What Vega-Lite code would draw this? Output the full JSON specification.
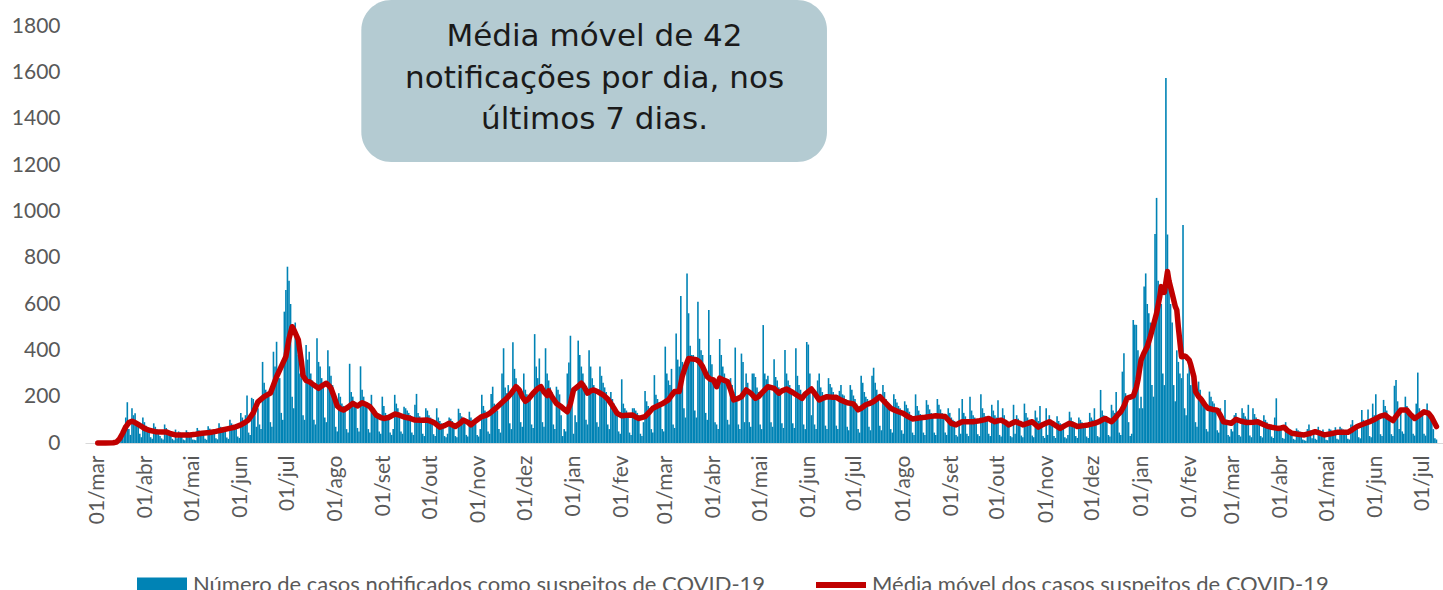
{"$schema":"https://vega.github.io/schema/vega-lite/v6.json","width":1358,"height":417,"autosize":{"type":"none"},"padding":{"left":85,"top":26,"right":0,"bottom":147},"background":"#ffffff","config":{"view":{"stroke":null},"axis":{"labelFont":"Lato","labelColor":"#595959","labelFontSize":21,"grid":false,"ticks":false,"tickSize":0}},
"datasets":{"bars":[
{"d":"2020-03-01","n":0},{"d":"2020-03-02","n":0},{"d":"2020-03-03","n":0},{"d":"2020-03-04","n":0},{"d":"2020-03-05","n":0},{"d":"2020-03-06","n":0},{"d":"2020-03-07","n":0},{"d":"2020-03-08","n":0},{"d":"2020-03-09","n":0},{"d":"2020-03-10","n":0},{"d":"2020-03-11","n":1},{"d":"2020-03-12","n":2},{"d":"2020-03-13","n":5},{"d":"2020-03-14","n":3},{"d":"2020-03-15","n":8},{"d":"2020-03-16","n":30},{"d":"2020-03-17","n":55},{"d":"2020-03-18","n":75},{"d":"2020-03-19","n":110},{"d":"2020-03-20","n":176},{"d":"2020-03-21","n":60},{"d":"2020-03-22","n":35},{"d":"2020-03-23","n":150},{"d":"2020-03-24","n":120},{"d":"2020-03-25","n":128},{"d":"2020-03-26","n":95},{"d":"2020-03-27","n":80},{"d":"2020-03-28","n":40},{"d":"2020-03-29","n":25},{"d":"2020-03-30","n":110},{"d":"2020-03-31","n":90},
{"d":"2020-04-01","n":75},{"d":"2020-04-02","n":68},{"d":"2020-04-03","n":60},{"d":"2020-04-04","n":25},{"d":"2020-04-05","n":18},{"d":"2020-04-06","n":85},{"d":"2020-04-07","n":70},{"d":"2020-04-08","n":60},{"d":"2020-04-09","n":52},{"d":"2020-04-10","n":30},{"d":"2020-04-11","n":20},{"d":"2020-04-12","n":15},{"d":"2020-04-13","n":80},{"d":"2020-04-14","n":65},{"d":"2020-04-15","n":55},{"d":"2020-04-16","n":48},{"d":"2020-04-17","n":42},{"d":"2020-04-18","n":18},{"d":"2020-04-19","n":12},{"d":"2020-04-20","n":58},{"d":"2020-04-21","n":20},{"d":"2020-04-22","n":50},{"d":"2020-04-23","n":45},{"d":"2020-04-24","n":40},{"d":"2020-04-25","n":15},{"d":"2020-04-26","n":12},{"d":"2020-04-27","n":55},{"d":"2020-04-28","n":48},{"d":"2020-04-29","n":42},{"d":"2020-04-30","n":38},
{"d":"2020-05-01","n":15},{"d":"2020-05-02","n":14},{"d":"2020-05-03","n":12},{"d":"2020-05-04","n":65},{"d":"2020-05-05","n":55},{"d":"2020-05-06","n":50},{"d":"2020-05-07","n":45},{"d":"2020-05-08","n":42},{"d":"2020-05-09","n":18},{"d":"2020-05-10","n":14},{"d":"2020-05-11","n":72},{"d":"2020-05-12","n":62},{"d":"2020-05-13","n":55},{"d":"2020-05-14","n":50},{"d":"2020-05-15","n":45},{"d":"2020-05-16","n":20},{"d":"2020-05-17","n":16},{"d":"2020-05-18","n":85},{"d":"2020-05-19","n":70},{"d":"2020-05-20","n":62},{"d":"2020-05-21","n":58},{"d":"2020-05-22","n":52},{"d":"2020-05-23","n":24},{"d":"2020-05-24","n":18},{"d":"2020-05-25","n":100},{"d":"2020-05-26","n":85},{"d":"2020-05-27","n":72},{"d":"2020-05-28","n":68},{"d":"2020-05-29","n":60},{"d":"2020-05-30","n":28},{"d":"2020-05-31","n":22},
{"d":"2020-06-01","n":130},{"d":"2020-06-02","n":110},{"d":"2020-06-03","n":95},{"d":"2020-06-04","n":120},{"d":"2020-06-05","n":205},{"d":"2020-06-06","n":45},{"d":"2020-06-07","n":35},{"d":"2020-06-08","n":195},{"d":"2020-06-09","n":190},{"d":"2020-06-10","n":160},{"d":"2020-06-11","n":70},{"d":"2020-06-12","n":150},{"d":"2020-06-13","n":80},{"d":"2020-06-14","n":60},{"d":"2020-06-15","n":350},{"d":"2020-06-16","n":260},{"d":"2020-06-17","n":230},{"d":"2020-06-18","n":210},{"d":"2020-06-19","n":200},{"d":"2020-06-20","n":90},{"d":"2020-06-21","n":70},{"d":"2020-06-22","n":394},{"d":"2020-06-23","n":330},{"d":"2020-06-24","n":437},{"d":"2020-06-25","n":300},{"d":"2020-06-26","n":280},{"d":"2020-06-27","n":130},{"d":"2020-06-28","n":100},{"d":"2020-06-29","n":567},{"d":"2020-06-30","n":660},
{"d":"2020-07-01","n":761},{"d":"2020-07-02","n":700},{"d":"2020-07-03","n":600},{"d":"2020-07-04","n":200},{"d":"2020-07-05","n":150},{"d":"2020-07-06","n":520},{"d":"2020-07-07","n":450},{"d":"2020-07-08","n":380},{"d":"2020-07-09","n":300},{"d":"2020-07-10","n":280},{"d":"2020-07-11","n":120},{"d":"2020-07-12","n":100},{"d":"2020-07-13","n":423},{"d":"2020-07-14","n":360},{"d":"2020-07-15","n":394},{"d":"2020-07-16","n":300},{"d":"2020-07-17","n":270},{"d":"2020-07-18","n":100},{"d":"2020-07-19","n":80},{"d":"2020-07-20","n":452},{"d":"2020-07-21","n":350},{"d":"2020-07-22","n":330},{"d":"2020-07-23","n":280},{"d":"2020-07-24","n":250},{"d":"2020-07-25","n":110},{"d":"2020-07-26","n":90},{"d":"2020-07-27","n":400},{"d":"2020-07-28","n":331},{"d":"2020-07-29","n":290},{"d":"2020-07-30","n":250},{"d":"2020-07-31","n":215},
{"d":"2020-08-01","n":70},{"d":"2020-08-02","n":50},{"d":"2020-08-03","n":215},{"d":"2020-08-04","n":200},{"d":"2020-08-05","n":170},{"d":"2020-08-06","n":160},{"d":"2020-08-07","n":150},{"d":"2020-08-08","n":60},{"d":"2020-08-09","n":45},{"d":"2020-08-10","n":342},{"d":"2020-08-11","n":220},{"d":"2020-08-12","n":200},{"d":"2020-08-13","n":180},{"d":"2020-08-14","n":160},{"d":"2020-08-15","n":65},{"d":"2020-08-16","n":50},{"d":"2020-08-17","n":331},{"d":"2020-08-18","n":230},{"d":"2020-08-19","n":200},{"d":"2020-08-20","n":175},{"d":"2020-08-21","n":160},{"d":"2020-08-22","n":60},{"d":"2020-08-23","n":45},{"d":"2020-08-24","n":208},{"d":"2020-08-25","n":150},{"d":"2020-08-26","n":140},{"d":"2020-08-27","n":125},{"d":"2020-08-28","n":115},{"d":"2020-08-29","n":50},{"d":"2020-08-30","n":40},{"d":"2020-08-31","n":200},
{"d":"2020-09-01","n":160},{"d":"2020-09-02","n":130},{"d":"2020-09-03","n":120},{"d":"2020-09-04","n":110},{"d":"2020-09-05","n":45},{"d":"2020-09-06","n":35},{"d":"2020-09-07","n":60},{"d":"2020-09-08","n":208},{"d":"2020-09-09","n":170},{"d":"2020-09-10","n":150},{"d":"2020-09-11","n":130},{"d":"2020-09-12","n":50},{"d":"2020-09-13","n":40},{"d":"2020-09-14","n":157},{"d":"2020-09-15","n":150},{"d":"2020-09-16","n":140},{"d":"2020-09-17","n":130},{"d":"2020-09-18","n":120},{"d":"2020-09-19","n":45},{"d":"2020-09-20","n":35},{"d":"2020-09-21","n":165},{"d":"2020-09-22","n":212},{"d":"2020-09-23","n":130},{"d":"2020-09-24","n":115},{"d":"2020-09-25","n":105},{"d":"2020-09-26","n":40},{"d":"2020-09-27","n":30},{"d":"2020-09-28","n":150},{"d":"2020-09-29","n":140},{"d":"2020-09-30","n":120},
{"d":"2020-10-01","n":110},{"d":"2020-10-02","n":100},{"d":"2020-10-03","n":38},{"d":"2020-10-04","n":30},{"d":"2020-10-05","n":150},{"d":"2020-10-06","n":110},{"d":"2020-10-07","n":95},{"d":"2020-10-08","n":85},{"d":"2020-10-09","n":80},{"d":"2020-10-10","n":30},{"d":"2020-10-11","n":25},{"d":"2020-10-12","n":40},{"d":"2020-10-13","n":110},{"d":"2020-10-14","n":105},{"d":"2020-10-15","n":95},{"d":"2020-10-16","n":85},{"d":"2020-10-17","n":30},{"d":"2020-10-18","n":25},{"d":"2020-10-19","n":148},{"d":"2020-10-20","n":130},{"d":"2020-10-21","n":115},{"d":"2020-10-22","n":105},{"d":"2020-10-23","n":95},{"d":"2020-10-24","n":35},{"d":"2020-10-25","n":28},{"d":"2020-10-26","n":135},{"d":"2020-10-27","n":110},{"d":"2020-10-28","n":100},{"d":"2020-10-29","n":90},{"d":"2020-10-30","n":85},{"d":"2020-10-31","n":35},
{"d":"2020-11-01","n":28},{"d":"2020-11-02","n":60},{"d":"2020-11-03","n":208},{"d":"2020-11-04","n":160},{"d":"2020-11-05","n":140},{"d":"2020-11-06","n":130},{"d":"2020-11-07","n":50},{"d":"2020-11-08","n":40},{"d":"2020-11-09","n":212},{"d":"2020-11-10","n":243},{"d":"2020-11-11","n":170},{"d":"2020-11-12","n":150},{"d":"2020-11-13","n":140},{"d":"2020-11-14","n":60},{"d":"2020-11-15","n":45},{"d":"2020-11-16","n":300},{"d":"2020-11-17","n":409},{"d":"2020-11-18","n":240},{"d":"2020-11-19","n":215},{"d":"2020-11-20","n":250},{"d":"2020-11-21","n":85},{"d":"2020-11-22","n":60},{"d":"2020-11-23","n":435},{"d":"2020-11-24","n":320},{"d":"2020-11-25","n":280},{"d":"2020-11-26","n":250},{"d":"2020-11-27","n":230},{"d":"2020-11-28","n":90},{"d":"2020-11-29","n":70},{"d":"2020-11-30","n":300},
{"d":"2020-12-01","n":230},{"d":"2020-12-02","n":210},{"d":"2020-12-03","n":200},{"d":"2020-12-04","n":190},{"d":"2020-12-05","n":80},{"d":"2020-12-06","n":65},{"d":"2020-12-07","n":470},{"d":"2020-12-08","n":330},{"d":"2020-12-09","n":280},{"d":"2020-12-10","n":365},{"d":"2020-12-11","n":240},{"d":"2020-12-12","n":90},{"d":"2020-12-13","n":70},{"d":"2020-12-14","n":409},{"d":"2020-12-15","n":300},{"d":"2020-12-16","n":270},{"d":"2020-12-17","n":240},{"d":"2020-12-18","n":220},{"d":"2020-12-19","n":80},{"d":"2020-12-20","n":60},{"d":"2020-12-21","n":243},{"d":"2020-12-22","n":230},{"d":"2020-12-23","n":210},{"d":"2020-12-24","n":120},{"d":"2020-12-25","n":30},{"d":"2020-12-26","n":60},{"d":"2020-12-27","n":50},{"d":"2020-12-28","n":300},{"d":"2020-12-29","n":347},{"d":"2020-12-30","n":463},{"d":"2020-12-31","n":200},
{"d":"2021-01-01","n":40},{"d":"2021-01-02","n":120},{"d":"2021-01-03","n":90},{"d":"2021-01-04","n":442},{"d":"2021-01-05","n":380},{"d":"2021-01-06","n":330},{"d":"2021-01-07","n":300},{"d":"2021-01-08","n":260},{"d":"2021-01-09","n":100},{"d":"2021-01-10","n":80},{"d":"2021-01-11","n":400},{"d":"2021-01-12","n":330},{"d":"2021-01-13","n":280},{"d":"2021-01-14","n":250},{"d":"2021-01-15","n":230},{"d":"2021-01-16","n":90},{"d":"2021-01-17","n":70},{"d":"2021-01-18","n":330},{"d":"2021-01-19","n":290},{"d":"2021-01-20","n":260},{"d":"2021-01-21","n":240},{"d":"2021-01-22","n":220},{"d":"2021-01-23","n":80},{"d":"2021-01-24","n":60},{"d":"2021-01-25","n":220},{"d":"2021-01-26","n":190},{"d":"2021-01-27","n":170},{"d":"2021-01-28","n":150},{"d":"2021-01-29","n":140},{"d":"2021-01-30","n":50},{"d":"2021-01-31","n":40},
{"d":"2021-02-01","n":275},{"d":"2021-02-02","n":170},{"d":"2021-02-03","n":150},{"d":"2021-02-04","n":140},{"d":"2021-02-05","n":130},{"d":"2021-02-06","n":45},{"d":"2021-02-07","n":35},{"d":"2021-02-08","n":150},{"d":"2021-02-09","n":150},{"d":"2021-02-10","n":140},{"d":"2021-02-11","n":130},{"d":"2021-02-12","n":120},{"d":"2021-02-13","n":40},{"d":"2021-02-14","n":30},{"d":"2021-02-15","n":90},{"d":"2021-02-16","n":225},{"d":"2021-02-17","n":180},{"d":"2021-02-18","n":160},{"d":"2021-02-19","n":150},{"d":"2021-02-20","n":60},{"d":"2021-02-21","n":45},{"d":"2021-02-22","n":293},{"d":"2021-02-23","n":208},{"d":"2021-02-24","n":190},{"d":"2021-02-25","n":175},{"d":"2021-02-26","n":160},{"d":"2021-02-27","n":60},{"d":"2021-02-28","n":50},
{"d":"2021-03-01","n":416},{"d":"2021-03-02","n":300},{"d":"2021-03-03","n":270},{"d":"2021-03-04","n":250},{"d":"2021-03-05","n":320},{"d":"2021-03-06","n":80},{"d":"2021-03-07","n":65},{"d":"2021-03-08","n":473},{"d":"2021-03-09","n":360},{"d":"2021-03-10","n":330},{"d":"2021-03-11","n":635},{"d":"2021-03-12","n":350},{"d":"2021-03-13","n":150},{"d":"2021-03-14","n":110},{"d":"2021-03-15","n":732},{"d":"2021-03-16","n":560},{"d":"2021-03-17","n":420},{"d":"2021-03-18","n":380},{"d":"2021-03-19","n":380},{"d":"2021-03-20","n":140},{"d":"2021-03-21","n":110},{"d":"2021-03-22","n":610},{"d":"2021-03-23","n":450},{"d":"2021-03-24","n":400},{"d":"2021-03-25","n":380},{"d":"2021-03-26","n":300},{"d":"2021-03-27","n":130},{"d":"2021-03-28","n":100},{"d":"2021-03-29","n":574},{"d":"2021-03-30","n":380},{"d":"2021-03-31","n":340},
{"d":"2021-04-01","n":260},{"d":"2021-04-02","n":90},{"d":"2021-04-03","n":80},{"d":"2021-04-04","n":60},{"d":"2021-04-05","n":449},{"d":"2021-04-06","n":380},{"d":"2021-04-07","n":330},{"d":"2021-04-08","n":300},{"d":"2021-04-09","n":270},{"d":"2021-04-10","n":100},{"d":"2021-04-11","n":80},{"d":"2021-04-12","n":280},{"d":"2021-04-13","n":250},{"d":"2021-04-14","n":220},{"d":"2021-04-15","n":412},{"d":"2021-04-16","n":200},{"d":"2021-04-17","n":80},{"d":"2021-04-18","n":60},{"d":"2021-04-19","n":386},{"d":"2021-04-20","n":350},{"d":"2021-04-21","n":90},{"d":"2021-04-22","n":300},{"d":"2021-04-23","n":260},{"d":"2021-04-24","n":90},{"d":"2021-04-25","n":70},{"d":"2021-04-26","n":300},{"d":"2021-04-27","n":300},{"d":"2021-04-28","n":285},{"d":"2021-04-29","n":240},{"d":"2021-04-30","n":220},
{"d":"2021-05-01","n":80},{"d":"2021-05-02","n":60},{"d":"2021-05-03","n":509},{"d":"2021-05-04","n":300},{"d":"2021-05-05","n":275},{"d":"2021-05-06","n":290},{"d":"2021-05-07","n":250},{"d":"2021-05-08","n":90},{"d":"2021-05-09","n":70},{"d":"2021-05-10","n":361},{"d":"2021-05-11","n":285},{"d":"2021-05-12","n":270},{"d":"2021-05-13","n":240},{"d":"2021-05-14","n":220},{"d":"2021-05-15","n":85},{"d":"2021-05-16","n":65},{"d":"2021-05-17","n":401},{"d":"2021-05-18","n":300},{"d":"2021-05-19","n":270},{"d":"2021-05-20","n":250},{"d":"2021-05-21","n":230},{"d":"2021-05-22","n":85},{"d":"2021-05-23","n":65},{"d":"2021-05-24","n":409},{"d":"2021-05-25","n":290},{"d":"2021-05-26","n":250},{"d":"2021-05-27","n":230},{"d":"2021-05-28","n":210},{"d":"2021-05-29","n":80},{"d":"2021-05-30","n":60},{"d":"2021-05-31","n":436},
{"d":"2021-06-01","n":425},{"d":"2021-06-02","n":300},{"d":"2021-06-03","n":120},{"d":"2021-06-04","n":230},{"d":"2021-06-05","n":80},{"d":"2021-06-06","n":60},{"d":"2021-06-07","n":270},{"d":"2021-06-08","n":300},{"d":"2021-06-09","n":240},{"d":"2021-06-10","n":220},{"d":"2021-06-11","n":200},{"d":"2021-06-12","n":75},{"d":"2021-06-13","n":60},{"d":"2021-06-14","n":280},{"d":"2021-06-15","n":255},{"d":"2021-06-16","n":240},{"d":"2021-06-17","n":220},{"d":"2021-06-18","n":200},{"d":"2021-06-19","n":75},{"d":"2021-06-20","n":60},{"d":"2021-06-21","n":225},{"d":"2021-06-22","n":250},{"d":"2021-06-23","n":210},{"d":"2021-06-24","n":205},{"d":"2021-06-25","n":190},{"d":"2021-06-26","n":70},{"d":"2021-06-27","n":55},{"d":"2021-06-28","n":250},{"d":"2021-06-29","n":230},{"d":"2021-06-30","n":205},
{"d":"2021-07-01","n":190},{"d":"2021-07-02","n":170},{"d":"2021-07-03","n":60},{"d":"2021-07-04","n":45},{"d":"2021-07-05","n":290},{"d":"2021-07-06","n":260},{"d":"2021-07-07","n":220},{"d":"2021-07-08","n":200},{"d":"2021-07-09","n":190},{"d":"2021-07-10","n":70},{"d":"2021-07-11","n":55},{"d":"2021-07-12","n":290},{"d":"2021-07-13","n":325},{"d":"2021-07-14","n":260},{"d":"2021-07-15","n":230},{"d":"2021-07-16","n":200},{"d":"2021-07-17","n":75},{"d":"2021-07-18","n":55},{"d":"2021-07-19","n":250},{"d":"2021-07-20","n":220},{"d":"2021-07-21","n":190},{"d":"2021-07-22","n":175},{"d":"2021-07-23","n":160},{"d":"2021-07-24","n":60},{"d":"2021-07-25","n":45},{"d":"2021-07-26","n":210},{"d":"2021-07-27","n":190},{"d":"2021-07-28","n":175},{"d":"2021-07-29","n":160},{"d":"2021-07-30","n":150},{"d":"2021-07-31","n":55},
{"d":"2021-08-01","n":40},{"d":"2021-08-02","n":180},{"d":"2021-08-03","n":165},{"d":"2021-08-04","n":150},{"d":"2021-08-05","n":135},{"d":"2021-08-06","n":120},{"d":"2021-08-07","n":45},{"d":"2021-08-08","n":35},{"d":"2021-08-09","n":210},{"d":"2021-08-10","n":160},{"d":"2021-08-11","n":140},{"d":"2021-08-12","n":125},{"d":"2021-08-13","n":115},{"d":"2021-08-14","n":45},{"d":"2021-08-15","n":35},{"d":"2021-08-16","n":185},{"d":"2021-08-17","n":165},{"d":"2021-08-18","n":145},{"d":"2021-08-19","n":130},{"d":"2021-08-20","n":120},{"d":"2021-08-21","n":45},{"d":"2021-08-22","n":35},{"d":"2021-08-23","n":190},{"d":"2021-08-24","n":165},{"d":"2021-08-25","n":145},{"d":"2021-08-26","n":130},{"d":"2021-08-27","n":120},{"d":"2021-08-28","n":45},{"d":"2021-08-29","n":35},{"d":"2021-08-30","n":150},{"d":"2021-08-31","n":130},
{"d":"2021-09-01","n":110},{"d":"2021-09-02","n":100},{"d":"2021-09-03","n":95},{"d":"2021-09-04","n":35},{"d":"2021-09-05","n":28},{"d":"2021-09-06","n":150},{"d":"2021-09-07","n":40},{"d":"2021-09-08","n":190},{"d":"2021-09-09","n":130},{"d":"2021-09-10","n":115},{"d":"2021-09-11","n":40},{"d":"2021-09-12","n":30},{"d":"2021-09-13","n":200},{"d":"2021-09-14","n":140},{"d":"2021-09-15","n":120},{"d":"2021-09-16","n":110},{"d":"2021-09-17","n":100},{"d":"2021-09-18","n":38},{"d":"2021-09-19","n":30},{"d":"2021-09-20","n":210},{"d":"2021-09-21","n":150},{"d":"2021-09-22","n":130},{"d":"2021-09-23","n":115},{"d":"2021-09-24","n":105},{"d":"2021-09-25","n":40},{"d":"2021-09-26","n":30},{"d":"2021-09-27","n":165},{"d":"2021-09-28","n":140},{"d":"2021-09-29","n":120},{"d":"2021-09-30","n":110},
{"d":"2021-10-01","n":185},{"d":"2021-10-02","n":35},{"d":"2021-10-03","n":28},{"d":"2021-10-04","n":150},{"d":"2021-10-05","n":120},{"d":"2021-10-06","n":100},{"d":"2021-10-07","n":95},{"d":"2021-10-08","n":85},{"d":"2021-10-09","n":30},{"d":"2021-10-10","n":25},{"d":"2021-10-11","n":165},{"d":"2021-10-12","n":40},{"d":"2021-10-13","n":120},{"d":"2021-10-14","n":105},{"d":"2021-10-15","n":95},{"d":"2021-10-16","n":32},{"d":"2021-10-17","n":25},{"d":"2021-10-18","n":170},{"d":"2021-10-19","n":130},{"d":"2021-10-20","n":110},{"d":"2021-10-21","n":100},{"d":"2021-10-22","n":90},{"d":"2021-10-23","n":32},{"d":"2021-10-24","n":25},{"d":"2021-10-25","n":140},{"d":"2021-10-26","n":110},{"d":"2021-10-27","n":95},{"d":"2021-10-28","n":160},{"d":"2021-10-29","n":80},{"d":"2021-10-30","n":30},{"d":"2021-10-31","n":22},
{"d":"2021-11-01","n":150},{"d":"2021-11-02","n":35},{"d":"2021-11-03","n":120},{"d":"2021-11-04","n":100},{"d":"2021-11-05","n":90},{"d":"2021-11-06","n":30},{"d":"2021-11-07","n":22},{"d":"2021-11-08","n":115},{"d":"2021-11-09","n":95},{"d":"2021-11-10","n":85},{"d":"2021-11-11","n":80},{"d":"2021-11-12","n":70},{"d":"2021-11-13","n":25},{"d":"2021-11-14","n":20},{"d":"2021-11-15","n":35},{"d":"2021-11-16","n":135},{"d":"2021-11-17","n":110},{"d":"2021-11-18","n":95},{"d":"2021-11-19","n":85},{"d":"2021-11-20","n":30},{"d":"2021-11-21","n":22},{"d":"2021-11-22","n":110},{"d":"2021-11-23","n":100},{"d":"2021-11-24","n":90},{"d":"2021-11-25","n":82},{"d":"2021-11-26","n":75},{"d":"2021-11-27","n":28},{"d":"2021-11-28","n":22},{"d":"2021-11-29","n":130},{"d":"2021-11-30","n":110},
{"d":"2021-12-01","n":100},{"d":"2021-12-02","n":150},{"d":"2021-12-03","n":90},{"d":"2021-12-04","n":30},{"d":"2021-12-05","n":25},{"d":"2021-12-06","n":229},{"d":"2021-12-07","n":140},{"d":"2021-12-08","n":120},{"d":"2021-12-09","n":110},{"d":"2021-12-10","n":100},{"d":"2021-12-11","n":35},{"d":"2021-12-12","n":28},{"d":"2021-12-13","n":165},{"d":"2021-12-14","n":140},{"d":"2021-12-15","n":130},{"d":"2021-12-16","n":220},{"d":"2021-12-17","n":120},{"d":"2021-12-18","n":45},{"d":"2021-12-19","n":35},{"d":"2021-12-20","n":308},{"d":"2021-12-21","n":387},{"d":"2021-12-22","n":215},{"d":"2021-12-23","n":200},{"d":"2021-12-24","n":90},{"d":"2021-12-25","n":30},{"d":"2021-12-26","n":40},{"d":"2021-12-27","n":531},{"d":"2021-12-28","n":510},{"d":"2021-12-29","n":510},{"d":"2021-12-30","n":400},{"d":"2021-12-31","n":150},
{"d":"2022-01-01","n":200},{"d":"2022-01-02","n":150},{"d":"2022-01-03","n":676},{"d":"2022-01-04","n":732},{"d":"2022-01-05","n":600},{"d":"2022-01-06","n":560},{"d":"2022-01-07","n":520},{"d":"2022-01-08","n":250},{"d":"2022-01-09","n":200},{"d":"2022-01-10","n":902},{"d":"2022-01-11","n":1058},{"d":"2022-01-12","n":700},{"d":"2022-01-13","n":650},{"d":"2022-01-14","n":600},{"d":"2022-01-15","n":300},{"d":"2022-01-16","n":250},{"d":"2022-01-17","n":1576},{"d":"2022-01-18","n":900},{"d":"2022-01-19","n":700},{"d":"2022-01-20","n":600},{"d":"2022-01-21","n":520},{"d":"2022-01-22","n":250},{"d":"2022-01-23","n":180},{"d":"2022-01-24","n":400},{"d":"2022-01-25","n":350},{"d":"2022-01-26","n":300},{"d":"2022-01-27","n":280},{"d":"2022-01-28","n":941},{"d":"2022-01-29","n":150},{"d":"2022-01-30","n":120},{"d":"2022-01-31","n":300},
{"d":"2022-02-01","n":358},{"d":"2022-02-02","n":250},{"d":"2022-02-03","n":300},{"d":"2022-02-04","n":250},{"d":"2022-02-05","n":90},{"d":"2022-02-06","n":70},{"d":"2022-02-07","n":265},{"d":"2022-02-08","n":230},{"d":"2022-02-09","n":200},{"d":"2022-02-10","n":180},{"d":"2022-02-11","n":160},{"d":"2022-02-12","n":60},{"d":"2022-02-13","n":50},{"d":"2022-02-14","n":222},{"d":"2022-02-15","n":200},{"d":"2022-02-16","n":180},{"d":"2022-02-17","n":170},{"d":"2022-02-18","n":150},{"d":"2022-02-19","n":55},{"d":"2022-02-20","n":45},{"d":"2022-02-21","n":150},{"d":"2022-02-22","n":120},{"d":"2022-02-23","n":110},{"d":"2022-02-24","n":186},{"d":"2022-02-25","n":100},{"d":"2022-02-26","n":35},{"d":"2022-02-27","n":28},{"d":"2022-02-28","n":60},
{"d":"2022-03-01","n":50},{"d":"2022-03-02","n":120},{"d":"2022-03-03","n":130},{"d":"2022-03-04","n":110},{"d":"2022-03-05","n":35},{"d":"2022-03-06","n":28},{"d":"2022-03-07","n":150},{"d":"2022-03-08","n":130},{"d":"2022-03-09","n":115},{"d":"2022-03-10","n":105},{"d":"2022-03-11","n":165},{"d":"2022-03-12","n":32},{"d":"2022-03-13","n":25},{"d":"2022-03-14","n":150},{"d":"2022-03-15","n":125},{"d":"2022-03-16","n":110},{"d":"2022-03-17","n":100},{"d":"2022-03-18","n":90},{"d":"2022-03-19","n":30},{"d":"2022-03-20","n":24},{"d":"2022-03-21","n":120},{"d":"2022-03-22","n":100},{"d":"2022-03-23","n":90},{"d":"2022-03-24","n":80},{"d":"2022-03-25","n":75},{"d":"2022-03-26","n":28},{"d":"2022-03-27","n":22},{"d":"2022-03-28","n":110},{"d":"2022-03-29","n":193},{"d":"2022-03-30","n":70},{"d":"2022-03-31","n":60},
{"d":"2022-04-01","n":65},{"d":"2022-04-02","n":22},{"d":"2022-04-03","n":18},{"d":"2022-04-04","n":90},{"d":"2022-04-05","n":70},{"d":"2022-04-06","n":60},{"d":"2022-04-07","n":55},{"d":"2022-04-08","n":50},{"d":"2022-04-09","n":18},{"d":"2022-04-10","n":14},{"d":"2022-04-11","n":63},{"d":"2022-04-12","n":55},{"d":"2022-04-13","n":50},{"d":"2022-04-14","n":45},{"d":"2022-04-15","n":15},{"d":"2022-04-16","n":12},{"d":"2022-04-17","n":10},{"d":"2022-04-18","n":60},{"d":"2022-04-19","n":80},{"d":"2022-04-20","n":55},{"d":"2022-04-21","n":20},{"d":"2022-04-22","n":50},{"d":"2022-04-23","n":18},{"d":"2022-04-24","n":14},{"d":"2022-04-25","n":70},{"d":"2022-04-26","n":55},{"d":"2022-04-27","n":50},{"d":"2022-04-28","n":58},{"d":"2022-04-29","n":40},{"d":"2022-04-30","n":14},
{"d":"2022-05-01","n":12},{"d":"2022-05-02","n":62},{"d":"2022-05-03","n":58},{"d":"2022-05-04","n":52},{"d":"2022-05-05","n":48},{"d":"2022-05-06","n":68},{"d":"2022-05-07","n":18},{"d":"2022-05-08","n":15},{"d":"2022-05-09","n":70},{"d":"2022-05-10","n":63},{"d":"2022-05-11","n":58},{"d":"2022-05-12","n":55},{"d":"2022-05-13","n":50},{"d":"2022-05-14","n":18},{"d":"2022-05-15","n":15},{"d":"2022-05-16","n":80},{"d":"2022-05-17","n":99},{"d":"2022-05-18","n":75},{"d":"2022-05-19","n":70},{"d":"2022-05-20","n":65},{"d":"2022-05-21","n":25},{"d":"2022-05-22","n":20},{"d":"2022-05-23","n":142},{"d":"2022-05-24","n":100},{"d":"2022-05-25","n":90},{"d":"2022-05-26","n":85},{"d":"2022-05-27","n":145},{"d":"2022-05-28","n":30},{"d":"2022-05-29","n":25},{"d":"2022-05-30","n":170},{"d":"2022-05-31","n":120},
{"d":"2022-06-01","n":210},{"d":"2022-06-02","n":110},{"d":"2022-06-03","n":100},{"d":"2022-06-04","n":38},{"d":"2022-06-05","n":30},{"d":"2022-06-06","n":186},{"d":"2022-06-07","n":160},{"d":"2022-06-08","n":140},{"d":"2022-06-09","n":120},{"d":"2022-06-10","n":105},{"d":"2022-06-11","n":38},{"d":"2022-06-12","n":30},{"d":"2022-06-13","n":247},{"d":"2022-06-14","n":272},{"d":"2022-06-15","n":180},{"d":"2022-06-16","n":60},{"d":"2022-06-17","n":150},{"d":"2022-06-18","n":50},{"d":"2022-06-19","n":40},{"d":"2022-06-20","n":200},{"d":"2022-06-21","n":160},{"d":"2022-06-22","n":140},{"d":"2022-06-23","n":125},{"d":"2022-06-24","n":110},{"d":"2022-06-25","n":40},{"d":"2022-06-26","n":32},{"d":"2022-06-27","n":170},{"d":"2022-06-28","n":304},{"d":"2022-06-29","n":150},{"d":"2022-06-30","n":130},
{"d":"2022-07-01","n":120},{"d":"2022-07-02","n":40},{"d":"2022-07-03","n":32},{"d":"2022-07-04","n":170},{"d":"2022-07-05","n":140},{"d":"2022-07-06","n":120},{"d":"2022-07-07","n":100},{"d":"2022-07-08","n":60},{"d":"2022-07-09","n":20},{"d":"2022-07-10","n":15}
],
"ma":[
{"d":"2020-03-01","m":0},{"d":"2020-03-06","m":0},{"d":"2020-03-11","m":1},{"d":"2020-03-13","m":4},{"d":"2020-03-15","m":18},{"d":"2020-03-17","m":42},{"d":"2020-03-19","m":70},{"d":"2020-03-21","m":88},{"d":"2020-03-23","m":94},{"d":"2020-03-25","m":88},{"d":"2020-03-27","m":80},{"d":"2020-03-29","m":72},{"d":"2020-03-31","m":63},
{"d":"2020-04-03","m":55},{"d":"2020-04-07","m":49},{"d":"2020-04-11","m":47},{"d":"2020-04-14","m":48},{"d":"2020-04-17","m":40},{"d":"2020-04-20","m":35},{"d":"2020-04-25","m":34},{"d":"2020-04-29","m":35},
{"d":"2020-05-03","m":38},{"d":"2020-05-07","m":42},{"d":"2020-05-12","m":45},{"d":"2020-05-16","m":50},{"d":"2020-05-20","m":56},{"d":"2020-05-24","m":62},{"d":"2020-05-28","m":68},
{"d":"2020-06-01","m":78},{"d":"2020-06-04","m":90},{"d":"2020-06-06","m":100},{"d":"2020-06-09","m":130},{"d":"2020-06-12","m":178},{"d":"2020-06-16","m":200},{"d":"2020-06-20","m":215},{"d":"2020-06-22","m":250},{"d":"2020-06-24","m":286},{"d":"2020-06-27","m":330},{"d":"2020-06-30","m":373},
{"d":"2020-07-02","m":450},{"d":"2020-07-04","m":502},{"d":"2020-07-05","m":490},{"d":"2020-07-08","m":445},{"d":"2020-07-10","m":350},{"d":"2020-07-11","m":290},{"d":"2020-07-13","m":270},{"d":"2020-07-15","m":265},{"d":"2020-07-18","m":250},{"d":"2020-07-21","m":236},{"d":"2020-07-24","m":250},{"d":"2020-07-26","m":258},{"d":"2020-07-28","m":245},{"d":"2020-07-29","m":236},{"d":"2020-07-31","m":200},
{"d":"2020-08-02","m":160},{"d":"2020-08-04","m":148},{"d":"2020-08-06","m":142},{"d":"2020-08-09","m":155},{"d":"2020-08-12","m":171},{"d":"2020-08-15","m":160},{"d":"2020-08-18","m":174},{"d":"2020-08-21","m":165},{"d":"2020-08-23","m":157},{"d":"2020-08-25","m":140},{"d":"2020-08-27","m":121},{"d":"2020-08-30","m":110},
{"d":"2020-09-01","m":106},{"d":"2020-09-04","m":110},{"d":"2020-09-08","m":125},{"d":"2020-09-11","m":120},{"d":"2020-09-14","m":112},{"d":"2020-09-17","m":108},{"d":"2020-09-21","m":99},{"d":"2020-09-25","m":98},{"d":"2020-09-29","m":99},
{"d":"2020-10-02","m":92},{"d":"2020-10-04","m":85},{"d":"2020-10-07","m":68},{"d":"2020-10-10","m":75},{"d":"2020-10-13","m":85},{"d":"2020-10-17","m":71},{"d":"2020-10-20","m":85},{"d":"2020-10-22","m":99},{"d":"2020-10-25","m":90},{"d":"2020-10-27","m":78},{"d":"2020-10-30","m":95},
{"d":"2020-11-03","m":114},{"d":"2020-11-06","m":120},{"d":"2020-11-08","m":128},{"d":"2020-11-12","m":150},{"d":"2020-11-16","m":175},{"d":"2020-11-19","m":193},{"d":"2020-11-22","m":215},{"d":"2020-11-25","m":243},{"d":"2020-11-27","m":230},{"d":"2020-11-29","m":200},
{"d":"2020-12-01","m":180},{"d":"2020-12-03","m":190},{"d":"2020-12-06","m":215},{"d":"2020-12-09","m":235},{"d":"2020-12-11","m":243},{"d":"2020-12-13","m":220},{"d":"2020-12-15","m":205},{"d":"2020-12-16","m":225},{"d":"2020-12-18","m":200},{"d":"2020-12-21","m":171},{"d":"2020-12-24","m":157},{"d":"2020-12-26","m":145},{"d":"2020-12-28","m":135},{"d":"2020-12-30","m":170},
{"d":"2021-01-01","m":229},{"d":"2021-01-04","m":245},{"d":"2021-01-06","m":258},{"d":"2021-01-08","m":240},{"d":"2021-01-10","m":215},{"d":"2021-01-12","m":225},{"d":"2021-01-14","m":229},{"d":"2021-01-17","m":220},{"d":"2021-01-20","m":208},{"d":"2021-01-23","m":190},{"d":"2021-01-25","m":171},{"d":"2021-01-27","m":150},{"d":"2021-01-29","m":128},
{"d":"2021-02-01","m":118},{"d":"2021-02-04","m":120},{"d":"2021-02-08","m":121},{"d":"2021-02-10","m":112},{"d":"2021-02-12","m":106},{"d":"2021-02-16","m":114},{"d":"2021-02-19","m":135},{"d":"2021-02-21","m":150},{"d":"2021-02-24","m":160},{"d":"2021-02-27","m":169},
{"d":"2021-03-03","m":186},{"d":"2021-03-05","m":205},{"d":"2021-03-07","m":222},{"d":"2021-03-10","m":222},{"d":"2021-03-12","m":290},{"d":"2021-03-14","m":330},{"d":"2021-03-16","m":365},{"d":"2021-03-19","m":362},{"d":"2021-03-21","m":360},{"d":"2021-03-23","m":350},{"d":"2021-03-25","m":330},{"d":"2021-03-27","m":300},{"d":"2021-03-28","m":286},{"d":"2021-03-30","m":275},
{"d":"2021-04-01","m":272},{"d":"2021-04-03","m":243},{"d":"2021-04-05","m":280},{"d":"2021-04-08","m":270},{"d":"2021-04-10","m":265},{"d":"2021-04-12","m":230},{"d":"2021-04-14","m":186},{"d":"2021-04-16","m":190},{"d":"2021-04-19","m":200},{"d":"2021-04-22","m":229},{"d":"2021-04-25","m":215},{"d":"2021-04-28","m":193},{"d":"2021-04-30","m":200},
{"d":"2021-05-02","m":215},{"d":"2021-05-06","m":243},{"d":"2021-05-10","m":236},{"d":"2021-05-13","m":215},{"d":"2021-05-15","m":225},{"d":"2021-05-18","m":233},{"d":"2021-05-22","m":218},{"d":"2021-05-25","m":205},{"d":"2021-05-28","m":193},{"d":"2021-05-30","m":211},
{"d":"2021-06-03","m":233},{"d":"2021-06-05","m":215},{"d":"2021-06-08","m":186},{"d":"2021-06-11","m":195},{"d":"2021-06-13","m":200},{"d":"2021-06-16","m":198},{"d":"2021-06-19","m":197},{"d":"2021-06-22","m":185},{"d":"2021-06-26","m":174},{"d":"2021-06-30","m":169},
{"d":"2021-07-03","m":143},{"d":"2021-07-05","m":150},{"d":"2021-07-08","m":165},{"d":"2021-07-11","m":172},{"d":"2021-07-13","m":179},{"d":"2021-07-17","m":200},{"d":"2021-07-19","m":185},{"d":"2021-07-21","m":171},{"d":"2021-07-24","m":150},{"d":"2021-07-26","m":143},{"d":"2021-07-29","m":135},
{"d":"2021-08-01","m":128},{"d":"2021-08-04","m":115},{"d":"2021-08-07","m":104},{"d":"2021-08-11","m":108},{"d":"2021-08-15","m":111},{"d":"2021-08-19","m":115},{"d":"2021-08-22","m":118},{"d":"2021-08-25","m":116},{"d":"2021-08-28","m":114},{"d":"2021-08-30","m":100},
{"d":"2021-09-01","m":85},{"d":"2021-09-04","m":78},{"d":"2021-09-06","m":85},{"d":"2021-09-08","m":92},{"d":"2021-09-12","m":92},{"d":"2021-09-15","m":92},{"d":"2021-09-19","m":96},{"d":"2021-09-22","m":100},{"d":"2021-09-25","m":106},{"d":"2021-09-27","m":98},{"d":"2021-09-29","m":92},
{"d":"2021-10-01","m":96},{"d":"2021-10-03","m":99},{"d":"2021-10-06","m":88},{"d":"2021-10-08","m":78},{"d":"2021-10-10","m":85},{"d":"2021-10-12","m":92},{"d":"2021-10-15","m":85},{"d":"2021-10-17","m":78},{"d":"2021-10-20","m":85},{"d":"2021-10-23","m":92},{"d":"2021-10-25","m":80},{"d":"2021-10-27","m":68},{"d":"2021-10-30","m":80},
{"d":"2021-11-03","m":92},{"d":"2021-11-06","m":80},{"d":"2021-11-10","m":63},{"d":"2021-11-13","m":75},{"d":"2021-11-16","m":85},{"d":"2021-11-19","m":78},{"d":"2021-11-21","m":71},{"d":"2021-11-25","m":75},{"d":"2021-11-28","m":78},
{"d":"2021-12-02","m":85},{"d":"2021-12-05","m":92},{"d":"2021-12-07","m":100},{"d":"2021-12-09","m":106},{"d":"2021-12-11","m":98},{"d":"2021-12-13","m":92},{"d":"2021-12-15","m":105},{"d":"2021-12-17","m":121},{"d":"2021-12-19","m":135},{"d":"2021-12-21","m":160},{"d":"2021-12-23","m":193},{"d":"2021-12-25","m":198},{"d":"2021-12-27","m":203},{"d":"2021-12-29","m":240},{"d":"2021-12-30","m":272},
{"d":"2022-01-01","m":358},{"d":"2022-01-03","m":390},{"d":"2022-01-05","m":416},{"d":"2022-01-07","m":460},{"d":"2022-01-09","m":510},{"d":"2022-01-11","m":560},{"d":"2022-01-13","m":630},{"d":"2022-01-14","m":675},{"d":"2022-01-16","m":650},{"d":"2022-01-18","m":740},{"d":"2022-01-19","m":700},{"d":"2022-01-21","m":646},{"d":"2022-01-23","m":590},{"d":"2022-01-24","m":574},{"d":"2022-01-25","m":500},{"d":"2022-01-27","m":372},{"d":"2022-01-29","m":375},{"d":"2022-01-30","m":372},
{"d":"2022-02-01","m":358},{"d":"2022-02-02","m":337},{"d":"2022-02-04","m":286},{"d":"2022-02-05","m":222},{"d":"2022-02-07","m":200},{"d":"2022-02-09","m":186},{"d":"2022-02-11","m":165},{"d":"2022-02-13","m":150},{"d":"2022-02-16","m":145},{"d":"2022-02-19","m":142},{"d":"2022-02-21","m":120},{"d":"2022-02-23","m":92},{"d":"2022-02-26","m":88},{"d":"2022-02-28","m":85},
{"d":"2022-03-03","m":102},{"d":"2022-03-06","m":95},{"d":"2022-03-10","m":88},{"d":"2022-03-14","m":90},{"d":"2022-03-17","m":92},{"d":"2022-03-20","m":82},{"d":"2022-03-23","m":73},{"d":"2022-03-26","m":68},{"d":"2022-03-30","m":63},
{"d":"2022-04-01","m":65},{"d":"2022-04-03","m":68},{"d":"2022-04-05","m":55},{"d":"2022-04-08","m":42},{"d":"2022-04-12","m":38},{"d":"2022-04-16","m":35},{"d":"2022-04-20","m":42},{"d":"2022-04-23","m":49},{"d":"2022-04-26","m":42},{"d":"2022-04-29","m":35},
{"d":"2022-05-03","m":40},{"d":"2022-05-07","m":46},{"d":"2022-05-10","m":46},{"d":"2022-05-14","m":46},{"d":"2022-05-17","m":58},{"d":"2022-05-20","m":71},{"d":"2022-05-24","m":82},{"d":"2022-05-28","m":92},
{"d":"2022-06-01","m":105},{"d":"2022-06-04","m":116},{"d":"2022-06-07","m":121},{"d":"2022-06-09","m":110},{"d":"2022-06-12","m":97},{"d":"2022-06-14","m":115},{"d":"2022-06-17","m":142},{"d":"2022-06-21","m":142},{"d":"2022-06-23","m":125},{"d":"2022-06-26","m":106},{"d":"2022-06-29","m":120},
{"d":"2022-07-02","m":135},{"d":"2022-07-05","m":128},{"d":"2022-07-07","m":110},{"d":"2022-07-10","m":71}
]},
"layer":[
{"data":{"name":"bars"},"mark":{"type":"bar","size":1.6},
"encoding":{
"x":{"field":"d","type":"temporal","scale":{"type":"utc","domain":[{"year":2020,"month":2,"date":25,"utc":true},{"year":2022,"month":7,"date":11,"utc":true}]},"axis":{"title":null,"tickCount":{"interval":"month","step":1},"labelAngle":-90,"labelPadding":12,"domainColor":"#D9D9D9","domainWidth":1,"labelOverlap":false,"labelFlush":false,"labelExpr":"'01/' + ['jan','fev','mar','abr','mai','jun','jul','ago','set','out','nov','dez'][utcmonth(datum.value)]"}},
"y":{"field":"n","type":"quantitative","scale":{"domain":[0,1800],"nice":false},"axis":{"title":null,"format":"d","values":[0,200,400,600,800,1000,1200,1400,1600,1800],"domain":false,"labelPadding":25}},
"color":{"datum":"Número de casos notificados como suspeitos de COVID-19","type":"nominal","scale":{"domain":["Número de casos notificados como suspeitos de COVID-19","Média móvel dos casos suspeitos de COVID-19"],"range":["#0083B5","#C00000"]},
"legend":{"orient":"none","legendX":52,"legendY":534,"direction":"horizontal","title":null,"labelFont":"Lato","labelFontSize":22,"labelColor":"#595959","labelLimit":1000,"labelOffset":6,"symbolSize":2500,"columnPadding":50,
"encode":{"symbols":{"update":{"shape":{"signal":"datum.value === 'Número de casos notificados como suspeitos de COVID-19' ? 'M-1,-0.3H1V0.3H-1Z' : 'M-1,-0.12H1V0.12H-1Z'"},"fill":{"signal":"datum.value === 'Número de casos notificados como suspeitos de COVID-19' ? '#0083B5' : '#C00000'"},"stroke":{"value":"transparent"},"strokeWidth":{"value":0},"opacity":{"value":1}}}}}}
}},
{"data":{"name":"ma"},"mark":{"type":"line","strokeWidth":5.5,"strokeCap":"round","strokeJoin":"round"},
"encoding":{
"x":{"field":"d","type":"temporal","scale":{"type":"utc","domain":[{"year":2020,"month":2,"date":25,"utc":true},{"year":2022,"month":7,"date":11,"utc":true}]},"axis":{"title":null,"tickCount":{"interval":"month","step":1},"labelAngle":-90,"labelPadding":12,"domainColor":"#D9D9D9","domainWidth":1,"labelOverlap":false,"labelFlush":false,"labelExpr":"'01/' + ['jan','fev','mar','abr','mai','jun','jul','ago','set','out','nov','dez'][utcmonth(datum.value)]"}},
"y":{"field":"m","type":"quantitative","scale":{"domain":[0,1800],"nice":false},"axis":{"title":null,"format":"d","values":[0,200,400,600,800,1000,1200,1400,1600,1800],"domain":false,"labelPadding":25}},
"color":{"datum":"Média móvel dos casos suspeitos de COVID-19","type":"nominal"}
}},
{"data":{"values":[{}]},"mark":{"type":"rect","cornerRadius":30,"color":"#B4CBD2"},
"encoding":{
"x":{"datum":{"year":2020,"month":8,"date":17,"hours":12,"utc":true},"type":"temporal","scale":{"type":"utc","domain":[{"year":2020,"month":2,"date":25,"utc":true},{"year":2022,"month":7,"date":11,"utc":true}]},"axis":{"title":null,"tickCount":{"interval":"month","step":1},"labelAngle":-90,"labelPadding":12,"domainColor":"#D9D9D9","domainWidth":1,"labelOverlap":false,"labelFlush":false,"labelExpr":"'01/' + ['jan','fev','mar','abr','mai','jun','jul','ago','set','out','nov','dez'][utcmonth(datum.value)]"}},
"x2":{"datum":{"year":2021,"month":6,"date":13,"utc":true}},
"y":{"datum":1213,"type":"quantitative","scale":{"domain":[0,1800],"nice":false},"axis":{"title":null,"format":"d","values":[0,200,400,600,800,1000,1200,1400,1600,1800],"domain":false,"labelPadding":25}},
"y2":{"datum":1912}
}},
{"data":{"values":[{}]},"mark":{"type":"text","text":["Média móvel de 42","notificações por dia, nos","últimos 7 dias."],"font":"DejaVu Sans","fontSize":31,"lineHeight":41.5,"align":"center","baseline":"middle","color":"#1a1a1a"},
"encoding":{
"x":{"datum":{"year":2021,"month":1,"date":14,"hours":12,"utc":true},"type":"temporal","scale":{"type":"utc","domain":[{"year":2020,"month":2,"date":25,"utc":true},{"year":2022,"month":7,"date":11,"utc":true}]},"axis":{"title":null,"tickCount":{"interval":"month","step":1},"labelAngle":-90,"labelPadding":12,"domainColor":"#D9D9D9","domainWidth":1,"labelOverlap":false,"labelFlush":false,"labelExpr":"'01/' + ['jan','fev','mar','abr','mai','jun','jul','ago','set','out','nov','dez'][utcmonth(datum.value)]"}},
"y":{"datum":1752,"type":"quantitative","scale":{"domain":[0,1800],"nice":false},"axis":{"title":null,"format":"d","values":[0,200,400,600,800,1000,1200,1400,1600,1800],"domain":false,"labelPadding":25}}
}}
]}
